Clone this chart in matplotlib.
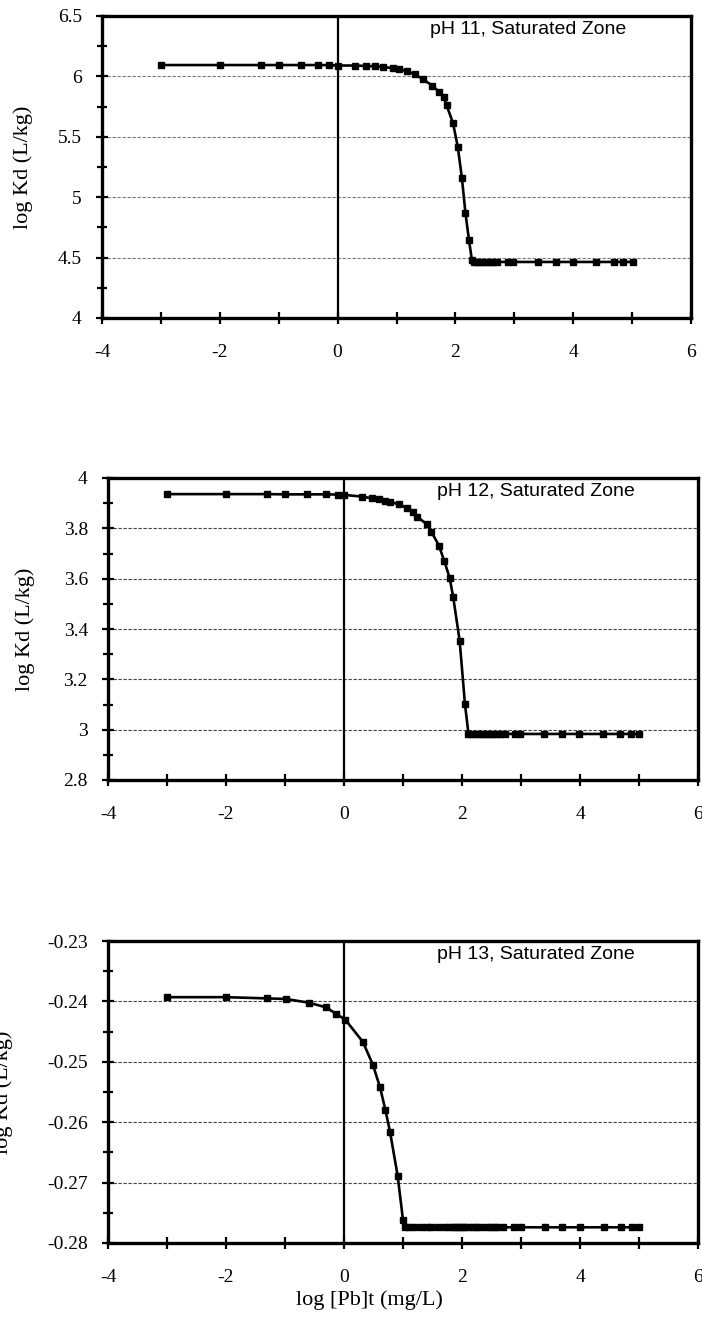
import matplotlib
matplotlib.use("Agg")
import matplotlib.pyplot as plt
from matplotlib.ticker import MultipleLocator, FuncFormatter, FixedLocator

plt.rcParams['axes.unicode_minus'] = False

# ---------------- data ----------------
x_ph11 = [-3.0, -2.0, -1.3, -1.0, -0.62, -0.34, -0.14, 0.0, 0.29, 0.49, 0.63, 0.77, 0.94,
          1.05, 1.17, 1.31, 1.45, 1.61, 1.72, 1.80, 1.85, 1.96, 2.04, 2.11, 2.17, 2.23,
          2.28, 2.32, 2.36, 2.42, 2.47, 2.53, 2.58, 2.64, 2.70, 2.89, 2.98, 3.40, 3.70,
          3.99, 4.39, 4.70, 4.84, 5.01]
y_ph11 = [6.094, 6.094, 6.094, 6.094, 6.094, 6.094, 6.093, 6.090, 6.090, 6.086, 6.084,
          6.080, 6.067, 6.059, 6.045, 6.017, 5.976, 5.923, 5.873, 5.827, 5.763, 5.612,
          5.418, 5.161, 4.872, 4.646, 4.480, 4.465, 4.464, 4.464, 4.464, 4.464, 4.464,
          4.464, 4.464, 4.464, 4.464, 4.464, 4.464, 4.464, 4.464, 4.464, 4.464, 4.464]

x_ph12 = [-3.0, -2.0, -1.3, -1.0, -0.62, -0.3, -0.1, 0.0, 0.31, 0.48, 0.59, 0.70, 0.78,
          0.93, 1.06, 1.17, 1.24, 1.40, 1.48, 1.61, 1.70, 1.79, 1.85, 1.96, 2.05, 2.11,
          2.16, 2.22, 2.28, 2.34, 2.40, 2.46, 2.52, 2.58, 2.64, 2.73, 2.89, 2.99, 3.39,
          3.69, 3.99, 4.39, 4.68, 4.86, 5.0]
y_ph12 = [3.936, 3.936, 3.936, 3.935, 3.935, 3.935, 3.934, 3.933, 3.926, 3.919, 3.915,
          3.910, 3.906, 3.895, 3.882, 3.866, 3.846, 3.817, 3.787, 3.731, 3.670, 3.604,
          3.528, 3.354, 3.102, 2.983, 2.983, 2.983, 2.983, 2.983, 2.983, 2.983, 2.983,
          2.983, 2.983, 2.983, 2.983, 2.983, 2.983, 2.983, 2.983, 2.983, 2.983, 2.983,
          2.983]

x_ph13 = [-3.0, -2.0, -1.31, -0.99, -0.6, -0.3, -0.13, 0.02, 0.32, 0.49, 0.61, 0.70,
          0.78, 0.91, 1.0, 1.04, 1.1, 1.18, 1.3, 1.4, 1.48, 1.6, 1.7, 1.78, 1.85, 1.9,
          1.95, 2.0, 2.04, 2.1, 2.18, 2.24, 2.3, 2.4, 2.48, 2.54, 2.6, 2.7, 2.88, 3.0,
          3.4, 3.7, 4.0, 4.4, 4.7, 4.88, 5.0]
y_ph13 = [-0.2393, -0.2393, -0.2395, -0.2396, -0.2402, -0.2410, -0.2421, -0.2430,
          -0.2467, -0.2505, -0.2542, -0.2579, -0.2616, -0.2689, -0.2762, -0.2774,
          -0.2774, -0.2774, -0.2774, -0.2774, -0.2774, -0.2774, -0.2774, -0.2774,
          -0.2774, -0.2774, -0.2774, -0.2774, -0.2774, -0.2774, -0.2774, -0.2774,
          -0.2774, -0.2774, -0.2774, -0.2774, -0.2774, -0.2774, -0.2774, -0.2774,
          -0.2774, -0.2774, -0.2774, -0.2774, -0.2774, -0.2774, -0.2774]

titles = ["pH 11, Saturated Zone", "pH 12, Saturated Zone", "pH 13, Saturated Zone"]
ylims = [(4.0, 6.5), (2.8, 4.0), (-0.28, -0.23)]
ysteps = [0.5, 0.2, 0.01]
xlim = (-4, 6)
ylabel = "log Kd (L/kg)"
xlabel = "log [Pb]t (mg/L)"

# ---------------- layout ----------------
W, H = 702, 1318
fig = plt.figure(figsize=(W / 100, H / 100), dpi=100)

boxes = [(102, 16, 691, 318), (108, 478, 698, 780), (108, 941, 698, 1243)]
ylabel_x = [-0.117, -0.124, -0.161]

serif = "Liberation Serif"
sans = "Liberation Sans"

series = [(x_ph11, y_ph11), (x_ph12, y_ph12), (x_ph13, y_ph13)]


def fmt(v, pos):
    return "%g" % round(v, 6)


for i, ((l, t, r, b), (xs, ys)) in enumerate(zip(boxes, series)):
    ax = fig.add_axes([l / W, 1 - b / H, (r - l) / W, (b - t) / H])
    ax.plot(xs, ys, color="black", lw=1.9, marker="s", ms=4.6, mec="black", mfc="black",
            zorder=5, clip_on=False)
    ax.axvline(0, color="black", lw=1.6, zorder=3)
    ax.set_xlim(*xlim)
    y0, y1 = ylims[i]
    ax.set_ylim(y0, y1)
    st = ysteps[i]
    n = int(round((y1 - y0) / st))
    majors = [y0 + k * st for k in range(n + 1)]
    minors = [y0 + (k + 0.5) * st for k in range(n)]
    ax.yaxis.set_major_locator(FixedLocator(majors))
    ax.yaxis.set_minor_locator(FixedLocator(minors))
    ax.yaxis.set_major_formatter(FuncFormatter(fmt))
    gcol = "#777777" if i == 0 else "#444444"
    for g in majors[1:-1]:
        ax.axhline(g, color=gcol, lw=0.8, ls=(0, (3, 1.5)), zorder=1)

    ax.xaxis.set_major_locator(MultipleLocator(1))
    ax.xaxis.set_major_formatter(FuncFormatter(
        lambda v, p: ("%d" % round(v)) if round(v) % 2 == 0 else ""))

    for sp in ax.spines.values():
        sp.set_linewidth(2.4)
        sp.set_zorder(6)
    ax.tick_params(axis="both", which="both", direction="inout", top=False, right=False,
                   width=1.6, color="black")
    ax.tick_params(axis="y", which="major", length=9, pad=10, labelsize=14)
    ax.tick_params(axis="y", which="minor", length=7)
    ax.tick_params(axis="x", which="major", length=9, pad=14, labelsize=14)
    for lab in ax.get_xticklabels() + ax.get_yticklabels():
        lab.set_fontfamily(serif)

    ax.set_ylabel(ylabel, fontsize=16, fontfamily=serif)
    ax.yaxis.set_label_coords(ylabel_x[i], 0.5)

    ax.text(0.557, 0.954, titles[i], transform=ax.transAxes, ha="left", va="center",
            fontsize=14, fontfamily=sans)

    if i == 2:
        ax.set_xlabel(xlabel, fontsize=16, fontfamily=serif)
        ax.xaxis.set_label_coords(0.443, -0.155)

fig.savefig("out.png", dpi=100)
